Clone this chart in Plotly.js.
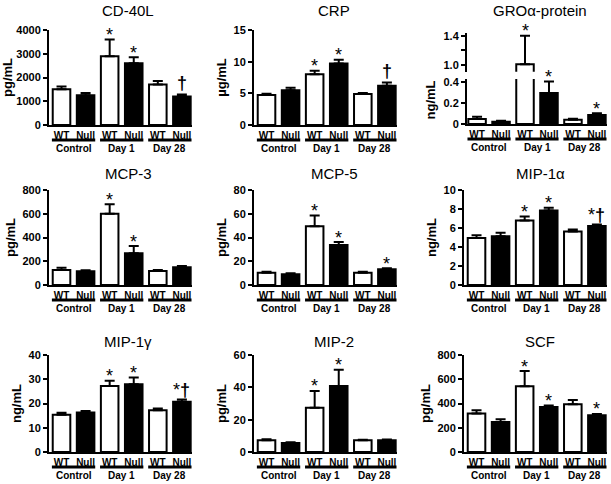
<!DOCTYPE html>
<html><head><meta charset="utf-8">
<script src="https://cdn.plot.ly/plotly-3.0.1.min.js"></script>
<style>html,body{margin:0;padding:0;background:#fff}#chart{width:611px;height:484px}</style>
</head><body><div id="chart"></div>
<script>
const W = 611, H = 484;

// ---------- data ----------
const xPos = [0, 1, 2, 3, 4, 5];
const barLabels = ["WT", "Null", "WT", "Null", "WT", "Null"];
const genotype = ["WT", "Null", "WT", "Null", "WT", "Null"];
const groupLabels = ["Control", "Day 1", "Day 28"];

const titles = ["CD-40L", "CRP", "GROα-protein", "MCP-3", "MCP-5", "MIP-1α", "MIP-1γ", "MIP-2", "SCF"];
const units = ["pg/mL", "µg/mL", "ng/mL", "pg/mL", "pg/mL", "ng/mL", "ng/mL", "pg/mL", "pg/mL"];

const cd40lMean = [1500, 1250, 2900, 2600, 1700, 1200];
const cd40lErr  = [120, 100, 700, 250, 150, 80];
const cd40lSig  = ["", "", "*", "*", "", "†"];

const crpMean = [4.75, 5.5, 8.0, 9.7, 4.9, 6.2];
const crpErr  = [0.2, 0.4, 0.55, 0.6, 0.15, 0.5];
const crpSig  = ["", "", "*", "*", "", "†"];

const groMean = [0.048, 0.022, 1.01, 0.295, 0.041, 0.086];
const groErr  = [0.02, 0.008, 0.39, 0.11, 0.009, 0.016];
const groSig  = ["", "", "*", "*", "", "*"];

const mcp3Mean = [126, 115, 600, 268, 118, 150];
const mcp3Err  = [20, 10, 80, 60, 8, 10];
const mcp3Sig  = ["", "", "*", "*", "", ""];

const mcp5Mean = [10.4, 9.0, 49.5, 33.7, 10.4, 13.2];
const mcp5Err  = [0.8, 0.8, 9, 2.5, 0.8, 0.8];
const mcp5Sig  = ["", "", "*", "*", "", "*"];

const mip1aMean = [4.95, 5.12, 6.8, 7.84, 5.64, 6.2];
const mip1aErr  = [0.28, 0.38, 0.4, 0.3, 0.2, 0.18];
const mip1aSig  = ["", "", "*", "*", "", "*†"];

const mip1gMean = [15.4, 16.3, 27.2, 27.9, 17.2, 20.7];
const mip1gErr  = [0.8, 0.6, 2.2, 2.8, 0.7, 1.0];
const mip1gSig  = ["", "", "*", "*", "", "*†"];

const mip2Mean = [7.2, 5.6, 27.3, 40.8, 7.2, 7.2];
const mip2Err  = [0.7, 0.4, 10.5, 10, 0.4, 0.5];
const mip2Sig  = ["", "", "*", "*", "", ""];

const scfMean = [317, 248, 543, 372, 394, 303];
const scfErr  = [28, 22, 125, 11, 34, 11];
const scfSig  = ["", "", "*", "*", "", "*"];

const yTicks = [
  [0, 1000, 2000, 3000, 4000],
  [0, 5, 10, 15],
  [0, 0.2, 0.4],
  [0, 200, 400, 600, 800],
  [0, 20, 40, 60, 80],
  [0, 2, 4, 6, 8, 10],
  [0, 10, 20, 30, 40],
  [0, 20, 40, 60],
  [0, 200, 400, 600, 800]
];
const groTopTicks = [1.0, 1.2, 1.4];
const groTopTickText = ["1.0", "", "1.4"];

const means = [cd40lMean, crpMean, groMean, mcp3Mean, mcp5Mean, mip1aMean, mip1gMean, mip2Mean, scfMean];
const errs  = [cd40lErr, crpErr, groErr, mcp3Err, mcp5Err, mip1aErr, mip1gErr, mip2Err, scfErr];
const sigs  = [cd40lSig, crpSig, groSig, mcp3Sig, mcp5Sig, mip1aSig, mip1gSig, mip2Sig, scfSig];

// ---------- layout geometry (pixels) ----------
const FONT = "Liberation Sans, Arial, Helvetica, sans-serif";
const colX = [[49, 192], [254, 397], [464, 607]];
const rowY = [[30, 125], [190, 285], [355, 452]];
const titleX = [128, 334, 540];
const titleY = [11, 173, 341];
const px = v => v / W;
const py = v => 1 - v / H;

const data = [];
const layout = {
  width: W, height: H,
  margin: {l: 0, r: 0, t: 0, b: 0},
  paper_bgcolor: "white", plot_bgcolor: "white",
  showlegend: false,
  hovermode: false,
  font: {family: FONT, color: "black"},
  annotations: [], shapes: []
};

function barTrace(k, xa, ya) {
  return {
    type: "bar", x: xPos, y: means[k], xaxis: xa, yaxis: ya,
    width: 0.73,
    marker: {color: genotype.map(g => g === "WT" ? "white" : "black"),
             line: {color: "black", width: 2}},
    error_y: {type: "data", symmetric: false, array: errs[k],
              arrayminus: errs[k].map(() => 0),
              color: "black", thickness: 2, width: 5},
    hoverinfo: "skip"
  };
}

function xAxis(k, n, col, range) {
  return {
    domain: [px(colX[col][0] + (k === 2 ? 3 : 0)), px(colX[col][1])],
    range: range, anchor: "y" + n,
    showline: true, linewidth: 2, linecolor: "black",
    tickvals: xPos, ticktext: barLabels, ticks: "",
    tickfont: {size: 10, weight: "bold", family: FONT, color: "black"},
    zeroline: false, showgrid: false, fixedrange: true
  };
}

function yAxisBase(dom, range, tickvals, ticktext) {
  const a = {
    domain: dom, range: range,
    showline: true, linewidth: 2, linecolor: "black",
    ticks: "outside", ticklen: 4, tickwidth: 2, tickcolor: "black",
    tickvals: tickvals,
    tickfont: {size: 11, weight: "bold", family: FONT, color: "black"},
    zeroline: false, showgrid: false, fixedrange: true
  };
  if (ticktext) a.ticktext = ticktext;
  return a;
}

function markText(s) {
  return s.replace("†", '<span style="font-weight:bold">†</span>');
}
function markShift(s) {
  if (s === "*") return -7.5;
  if (s === "†") return 0;
  return -3;
}

for (let k = 0; k < 9; k++) {
  const n = k + 1;
  const col = k % 3, row = Math.floor(k / 3);
  const yt = rowY[row][0], yb = rowY[row][1];
  const xr = k === 2 ? [-0.42, 5.42] : [-0.52, 5.42];
  const xa = "x" + n, ya = "y" + n;

  layout["xaxis" + n] = xAxis(k, n, col, xr);

  if (k === 2) {
    // broken axis: lower segment
    const ax = yAxisBase([py(124), py(79)], [0, 0.429], yTicks[k], ["0", "0.2", "0.4"]);
    ax.anchor = xa;
    layout["yaxis" + n] = ax;
    data.push(barTrace(k, xa, ya));
    // upper segment
    layout.xaxis10 = {domain: layout.xaxis3.domain, range: xr, anchor: "y10", visible: false, fixedrange: true};
    const top = yAxisBase([py(71.7), py(33)], [0.908, 1.437], groTopTicks, groTopTickText);
    top.anchor = "x10";
    layout.yaxis10 = top;
    data.push(barTrace(k, "x10", "y10"));
    layout.annotations.push({
      xref: "paper", yref: "paper", x: px(439), y: py(78.5),
      text: units[k], textangle: -90, showarrow: false,
      font: {size: 13, weight: "bold", family: FONT, color: "black"}
    });
  } else {
    const top = yTicks[k][yTicks[k].length - 1];
    const ax = yAxisBase([py(yb), py(yt)], [0, top], yTicks[k]);
    ax.anchor = xa;
    ax.title = {text: units[k], font: {size: 13, weight: "bold", family: FONT, color: "black"}, standoff: 4};
    layout["yaxis" + n] = ax;
    data.push(barTrace(k, xa, ya));
  }

  // panel title
  layout.annotations.push({
    xref: "paper", yref: "paper", x: px(titleX[col]), y: py(titleY[row]),
    yanchor: "middle", xanchor: "center", text: titles[k], showarrow: false,
    font: {size: 15, family: FONT, color: "black"}
  });

  const axisBottom = k === 2 ? 124 : yb;
  // group underlines and labels
  for (let g = 0; g < 3; g++) {
    layout.shapes.push({
      type: "line", xref: xa, yref: "paper",
      x0: 2 * g - 0.4, x1: 2 * g + 1.4,
      y0: py(axisBottom + 15), y1: py(axisBottom + 15),
      line: {color: "black", width: 3}
    });
    layout.annotations.push({
      xref: xa, yref: "paper", x: 2 * g + 0.5, y: py(axisBottom + 23.5),
      yanchor: "middle", text: groupLabels[g], showarrow: false,
      font: {size: 10, weight: "bold", family: FONT, color: "black"}
    });
  }

  // significance marks
  sigs[k].forEach((s, i) => {
    if (!s) return;
    const useTop = (k === 2 && i === 2);
    layout.annotations.push({
      xref: useTop ? "x10" : xa, yref: useTop ? "y10" : ya,
      x: xPos[i], y: means[k][i] + errs[k][i],
      yanchor: "bottom", text: markText(s), showarrow: false, yshift: markShift(s),
      font: {size: 18, family: FONT, color: "black"}
    });
  });
}

Plotly.newPlot("chart", data, layout, {staticPlot: true, displayModeBar: false});
</script>
</body></html>
